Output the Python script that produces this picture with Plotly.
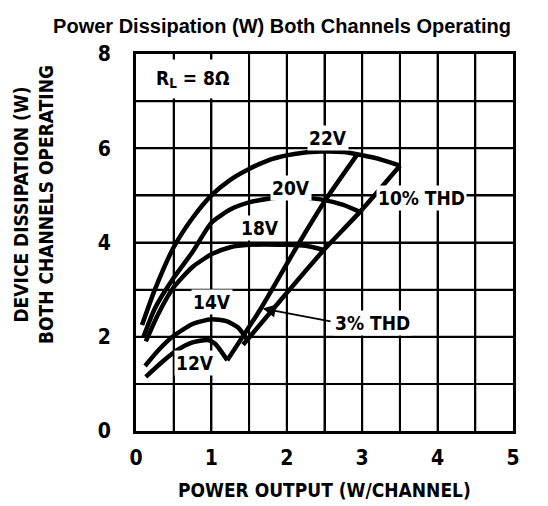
import plotly.graph_objects as go

# ---- data ----
x_22v = [0.08, 0.25, 0.5, 0.75, 1.0, 1.25, 1.5, 1.8, 2.1, 2.45, 2.75, 3.0, 3.25, 3.5]
y_22v = [2.25, 3.0, 3.9, 4.52, 5.0, 5.33, 5.56, 5.77, 5.88, 5.93, 5.92, 5.85, 5.76, 5.63]

x_20v = [0.1, 0.25, 0.5, 0.75, 1.0, 1.25, 1.5, 1.8, 2.1, 2.5, 2.75, 2.97]
y_20v = [2.0, 2.6, 3.25, 3.8, 4.42, 4.7, 4.85, 4.94, 4.97, 4.9, 4.8, 4.65]

x_18v = [0.13, 0.3, 0.5, 0.75, 1.0, 1.25, 1.5, 2.0, 2.25, 2.49]
y_18v = [1.9, 2.5, 3.05, 3.48, 3.75, 3.9, 3.95, 3.95, 3.93, 3.84]

x_14v = [0.12, 0.3, 0.5, 0.75, 1.0, 1.2, 1.35, 1.47]
y_14v = [1.38, 1.72, 2.02, 2.27, 2.37, 2.33, 2.2, 1.95]

x_12v = [0.13, 0.35, 0.55, 0.75, 0.95, 1.05, 1.21]
y_12v = [1.15, 1.47, 1.72, 1.88, 1.93, 1.85, 1.5]

x_thd3 = [1.21, 1.66, 2.14, 2.5, 2.94]
y_thd3 = [1.5, 2.61, 3.93, 4.87, 5.88]

x_thd10 = [1.42, 1.92, 2.49, 2.97, 3.5]
y_thd10 = [1.83, 2.78, 3.84, 4.65, 5.63]

curve_labels = ["22V", "20V", "18V", "14V", "12V"]
label_x = [2.55, 2.06, 1.64, 1.01, 0.78]
label_y = [6.22, 5.16, 4.31, 2.73, 1.44]

# grid positions (every 0.5 W in x, every 1 W in y); labels only on whole/even values
x_grid = [0, 0.5, 1, 1.5, 2, 2.5, 3, 3.5, 4, 4.5, 5]
x_ticktext = ["0", "", "1", "", "2", "", "3", "", "4", "", "5"]
y_grid = [0, 1, 2, 3, 4, 5, 6, 7, 8]
y_ticktext = ["0", "", "2", "", "4", "", "6", "", "8"]

TITLE = "Power Dissipation (W) Both Channels Operating"
X_TITLE = "POWER OUTPUT (W/CHANNEL)"
Y_TITLE = "DEVICE DISSIPATION (W)<br>BOTH CHANNELS OPERATING"

COND = "Liberation Sans Narrow, DejaVu Sans Condensed, Liberation Sans, Arial, sans-serif"


def cfont(size):
    return dict(family=COND, size=size, color="black", weight="bold")


def bold(labels):
    return [f"<b>{t}</b>" if t else "" for t in labels]


fig = go.Figure()

# chart grid, built from the grid position lists
x_lo, x_hi = min(x_grid), max(x_grid)
y_lo, y_hi = min(y_grid), max(y_grid)
gx, gy = [], []
for v in x_grid[1:-1]:
    gx += [v, v, None]
    gy += [y_lo, y_hi, None]
for v in y_grid[1:-1]:
    gx += [x_lo, x_hi, None]
    gy += [v, v, None]
fig.add_trace(go.Scatter(x=gx, y=gy, mode="lines",
                         line=dict(color="black", width=2),
                         connectgaps=False, hoverinfo="skip", showlegend=False))

series = [
    (x_22v, y_22v),
    (x_20v, y_20v),
    (x_18v, y_18v),
    (x_14v, y_14v),
    (x_12v, y_12v),
    (x_thd3, y_thd3),
    (x_thd10, y_thd10),
]
for xs, ys in series:
    fig.add_trace(go.Scatter(
        x=xs, y=ys, mode="lines",
        line=dict(color="black", width=4.5, shape="spline", smoothing=0.6),
        hoverinfo="skip", showlegend=False,
    ))

annotations = []
for t, lx, ly in zip(curve_labels, label_x, label_y):
    annotations.append(dict(x=lx, y=ly, xref="x", yref="y", text=t,
                            showarrow=False, font=cfont(19),
                            bgcolor="white", borderpad=1))

annotations.append(dict(x=3.79, y=4.95, xref="x", yref="y", text="10% THD",
                        showarrow=False, font=cfont(19), bgcolor="white",
                        borderpad=1))
annotations.append(dict(x=3.13, y=2.29, xref="x", yref="y", text="3% THD",
                        showarrow=False, font=cfont(19), bgcolor="white",
                        borderpad=1))
# arrow for 3% THD
annotations.append(dict(x=1.68, y=2.6, xref="x", yref="y", ax=2.6, ay=2.32,
                        axref="x", ayref="y", text="", showarrow=True,
                        arrowhead=2, arrowsize=1.6, arrowwidth=1.6,
                        arrowcolor="black", standoff=0))
# R_L box
annotations.append(dict(x=0.76, y=7.47, xref="x", yref="y",
                        text="R<sub>L</sub> = 8Ω", showarrow=False,
                        font=cfont(19), bgcolor="white", width=100, height=36))
# axis titles
annotations.append(dict(x=0.5, y=-0.19, xref="paper", yref="paper",
                        text=X_TITLE, showarrow=False, font=cfont(19)))
annotations.append(dict(x=-0.27, y=0.6, xref="paper", yref="paper",
                        text=Y_TITLE, showarrow=False, textangle=-90,
                        xanchor="center", yanchor="middle", font=cfont(19)))

TICKFONT = dict(family=COND, size=21, color="black")

fig.update_layout(
    width=548, height=506,
    margin=dict(l=128, r=43, t=46, b=83),
    paper_bgcolor="white", plot_bgcolor="white",
    title=dict(text=TITLE, x=0.5, xanchor="center", y=0.965, yanchor="middle",
               font=dict(family="Liberation Sans, Arial, sans-serif", size=20,
                         color="black", weight="bold")),
    xaxis=dict(range=[x_lo, x_hi], tickmode="array", tickvals=x_grid,
               ticktext=bold(x_ticktext), tickfont=TICKFONT,
               showgrid=True, gridcolor="black", gridwidth=2,
               showline=True, linecolor="black", linewidth=3, mirror=True,
               ticklabelstandoff=6),
    yaxis=dict(range=[y_lo, y_hi], tickmode="array", tickvals=y_grid,
               ticktext=bold(y_ticktext), tickfont=TICKFONT,
               showgrid=True, gridcolor="black", gridwidth=2,
               showline=True, linecolor="black", linewidth=3, mirror=True,
               ticks="outside", ticklen=18, tickwidth=1,
               tickcolor="rgba(0,0,0,0)"),
    annotations=annotations,
)

fig.write_html("out.html")
